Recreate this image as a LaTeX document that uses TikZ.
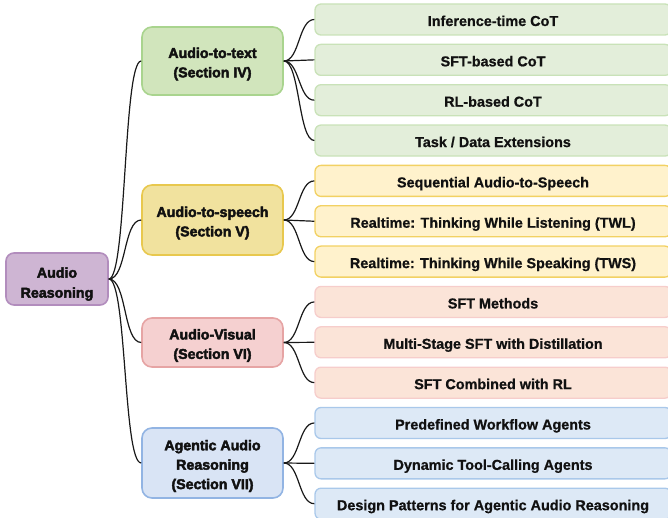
\documentclass[tikz,border=0pt]{standalone}
\usepackage{fontspec}
\setmainfont{Liberation Sans}
\newfontfamily\heavyfont{Liberation Sans Bold}[FakeBold=3]
\newfontfamily\leaffont{Liberation Sans Bold}[FakeBold=0.8]
\definecolor{rootf}{HTML}{CEB5D3}\definecolor{rootd}{HTML}{B28DBD}
\definecolor{gmf}{HTML}{D1E5BC}\definecolor{gmd}{HTML}{A9D48E}
\definecolor{glf}{HTML}{E3EEDA}\definecolor{gld}{HTML}{C9E2B8}
\definecolor{ymf}{HTML}{F1E29E}\definecolor{ymd}{HTML}{E8C84E}
\definecolor{ylf}{HTML}{FFF2CC}\definecolor{yld}{HTML}{F2D163}
\definecolor{rmf}{HTML}{F5D0D0}\definecolor{rmd}{HTML}{E6A4A4}
\definecolor{rlf}{HTML}{FBE4D8}\definecolor{rld}{HTML}{F6CDCB}
\definecolor{bmf}{HTML}{D9E4F5}\definecolor{bmd}{HTML}{92B4E3}
\definecolor{blf}{HTML}{DDE9F6}\definecolor{bld}{HTML}{A9C8EA}
\definecolor{txt}{HTML}{111111}
\begin{document}
\begin{tikzpicture}[x=1pt,y=-1pt,
  box/.style={rectangle,line width=1.6pt,align=center,inner sep=0pt,text=txt},
  boxtext/.style={align=center,inner sep=0pt,text=txt,font=\heavyfont\fontsize{14.2}{19.4}\selectfont},
  rootbox/.style={box,rounded corners=8pt,minimum width=102pt,minimum height=52pt,fill=rootf,draw=rootd,
    label={[boxtext,font=\heavyfont\fontsize{14.2}{20}\selectfont,yshift=-5pt]center:#1}},
  midbox/.style={box,rounded corners=10pt,minimum width=141pt,
    label={[boxtext,yshift=-3pt]center:#1}},
  leafbox/.style={box,line width=1.3pt,rounded corners=6pt,minimum width=356pt,minimum height=31pt,
    text height=16pt,text depth=3pt,font=\leaffont\fontsize{14.4}{17}\selectfont},
  conn/.style={line width=1.2pt,draw=black!90},
]
\useasboundingbox (0,0) rectangle (668,518);
\node[rootbox={Audio\\Reasoning}] (root) at (57,279) {};
\node[midbox={Audio-to-text\\(Section IV)},minimum height=68pt,fill=gmf,draw=gmd] (m1) at (212.5,61) {};
\node[midbox={Audio-to-speech\\(Section V)},minimum height=70pt,fill=ymf,draw=ymd] (m2) at (212.5,220) {};
\node[midbox={Audio-Visual\\(Section VI)},minimum height=49pt,fill=rmf,draw=rmd] (m3) at (212.5,342.5) {};
\node[midbox={Agentic Audio\\Reasoning\\(Section VII)},minimum height=70pt,fill=bmf,draw=bmd] (m4) at (212.5,463) {};
\foreach \i/\t/\f/\d in {
  0/{Inference-time CoT}/glf/gld,
  1/{SFT-based CoT}/glf/gld,
  2/{RL-based CoT}/glf/gld,
  3/{Task / Data Extensions}/glf/gld,
  4/{Sequential Audio-to-Speech}/ylf/yld,
  5/{Realtime: Thinking While Listening (TWL)}/ylf/yld,
  6/{Realtime: Thinking While Speaking (TWS)}/ylf/yld,
  7/{SFT Methods}/rlf/rld,
  8/{Multi-Stage SFT with Distillation}/rlf/rld,
  9/{SFT Combined with RL}/rlf/rld,
  10/{Predefined Workflow Agents}/blf/bld,
  11/{Dynamic Tool-Calling Agents}/blf/bld,
  12/{Design Patterns for Agentic Audio Reasoning}/blf/bld}
  {\node[leafbox,fill=\f,draw=\d] (l\i) at (493,{19.5+40.35*\i}) {\t};}
\foreach \m in {m1,m2,m3,m4}
  \draw[conn] (root.east) .. controls +(18,0) and +(-18,0) .. (\m.west);
\foreach \m/\l in {m1/l0,m1/l1,m1/l2,m1/l3,m2/l4,m2/l5,m2/l6,m3/l7,m3/l8,m3/l9,m4/l10,m4/l11,m4/l12}
  \draw[conn] (\m.east) .. controls +(16,0) and +(-16,0) .. (\l.west);
\end{tikzpicture}
\end{document}
